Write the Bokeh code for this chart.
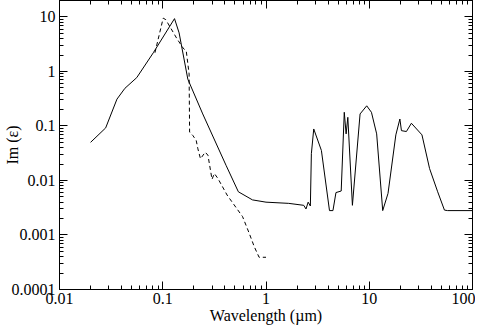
from bokeh.plotting import figure
from bokeh.models import FixedTicker, LogAxis, CustomJSTickFormatter, Range1d
from bokeh.embed import file_html
from bokeh.resources import INLINE

# ---- data ----
x_solid = [0.020, 0.028, 0.036, 0.043, 0.056, 0.081, 0.130, 0.144, 0.175, 0.244, 0.41,
           0.54, 0.74, 1.0, 1.66, 2.32, 2.44, 2.56, 2.69, 2.75, 2.9, 3.44, 4.12, 4.45,
           4.76, 5.35, 5.73, 5.97, 6.2, 6.87, 8.15, 9.45, 10.5, 11.8, 13.5, 15.2, 18.1,
           19.8, 20.5, 22.9, 25.6, 32.4, 38.4, 46.0, 53.5, 57.5, 100.0]
y_solid = [0.050, 0.092, 0.31, 0.49, 0.77, 2.2, 9.3, 5.1, 0.72, 0.166, 0.019,
           0.0062, 0.0044, 0.0040, 0.0038, 0.0035, 0.0030, 0.0040, 0.0034, 0.031, 0.088,
           0.0355, 0.0028, 0.0028, 0.0060, 0.0064, 0.178, 0.0715, 0.144, 0.0035, 0.166,
           0.234, 0.178, 0.0715, 0.0028, 0.0058, 0.0686, 0.134, 0.082, 0.079, 0.112,
           0.0686, 0.0165, 0.0062, 0.00286, 0.0028, 0.0028]

x_dash = [0.084, 0.101, 0.107, 0.136, 0.157, 0.169, 0.180, 0.182, 0.196, 0.211, 0.219,
          0.232, 0.258, 0.274, 0.300, 0.316, 0.341, 0.42, 0.593, 0.687, 0.767, 0.857, 1.0]
y_dash = [2.2, 9.5, 8.9, 4.1, 2.7, 2.36, 0.9, 0.077, 0.0665, 0.054, 0.038,
          0.025, 0.033, 0.029, 0.0105, 0.0134, 0.0110, 0.0054, 0.00217, 0.00108, 0.00062,
          0.00039, 0.00039]

x_ticks = [0.01, 0.1, 1, 10, 100]
y_ticks = [0.0001, 0.001, 0.01, 0.1, 1, 10]
x_minor = [k * 10.0 ** e for e in range(-2, 2) for k in range(2, 10)]
y_minor = [k * 10.0 ** e for e in range(-4, 2) for k in range(2, 10) if k * 10.0 ** e <= 20]

FONT = "'Liberation Serif', serif"

p = figure(x_axis_type="log", y_axis_type="log",
           x_range=Range1d(0.01, 100), y_range=Range1d(1e-4, 20),
           width=475, height=326, output_backend="svg", toolbar_location=None,
           min_border_left=54, min_border_right=3, min_border_top=0, min_border_bottom=10)
p.background_fill_color = "white"
p.border_fill_color = "white"
p.outline_line_color = "black"
p.xgrid.visible = False
p.ygrid.visible = False

fmt = CustomJSTickFormatter(code="return tick.toString();")

def style(ax, ticks, minor, labels=True):
    ax.ticker = FixedTicker(ticks=ticks, minor_ticks=minor)
    ax.axis_line_color = "black"
    ax.major_tick_line_color = "black"
    ax.minor_tick_line_color = "black"
    ax.major_tick_in = 8
    ax.major_tick_out = 0
    ax.minor_tick_in = 4
    ax.minor_tick_out = 0
    if labels:
        ax.formatter = fmt
        ax.major_label_text_font = FONT
        ax.major_label_text_font_size = "16px"
        ax.major_label_text_color = "black"
        ax.axis_label_text_font = FONT
        ax.axis_label_text_font_size = "16px"
        ax.axis_label_text_font_style = "normal"
        ax.axis_label_text_color = "black"
    else:
        ax.major_label_text_font_size = "1px"
        ax.major_label_text_alpha = 0
        ax.major_label_standoff = 0

style(p.xaxis[0], x_ticks, x_minor)
style(p.yaxis[0], y_ticks, y_minor)
p.xaxis[0].axis_label = "Wavelength (\u00b5m)"
p.yaxis[0].axis_label = "Im (\u03b5)"
p.xaxis[0].major_label_standoff = 3
p.xaxis[0].axis_label_standoff = 0
p.yaxis[0].major_label_standoff = 4
p.yaxis[0].axis_label_standoff = -12

top = LogAxis()
style(top, x_ticks, x_minor, labels=False)
p.add_layout(top, "above")
right = LogAxis()
style(right, y_ticks, y_minor, labels=False)
p.add_layout(right, "right")

p.line(x_solid, y_solid, line_color="black", line_width=1)
p.line(x_dash, y_dash, line_color="black", line_width=1, line_dash="4 3")

open("out.html", "w").write(file_html(p, INLINE))
